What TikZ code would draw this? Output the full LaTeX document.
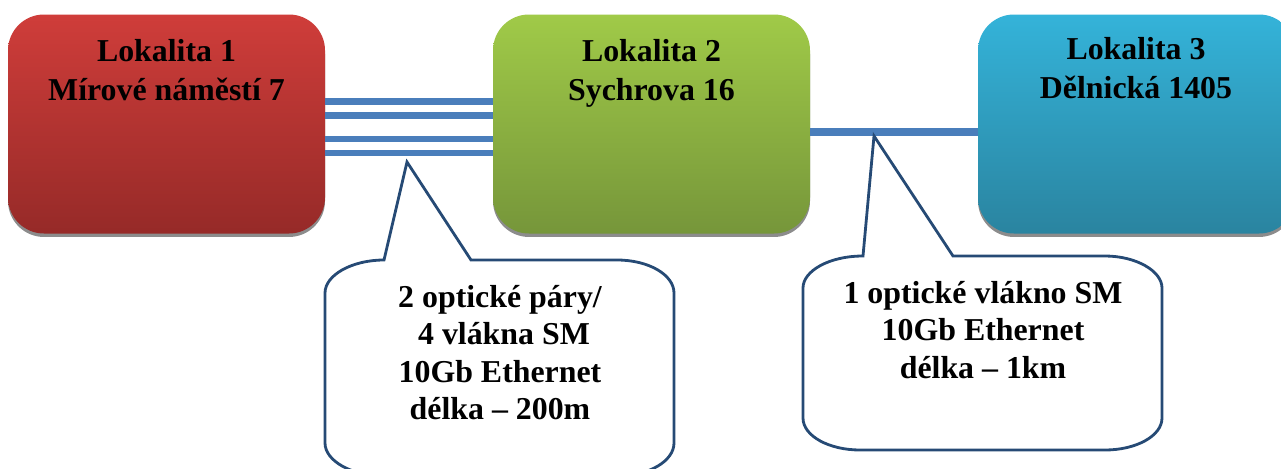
\documentclass[tikz,border=0pt]{standalone}
\usepackage{fontspec}
\setmainfont{Liberation Serif}
\usetikzlibrary{shadows}
\definecolor{linkblue}{HTML}{4A7EBB}
\definecolor{calloutblue}{HTML}{264A75}
\tikzset{
  sitebox/.style={minimum width=317*0.75pt,minimum height=219*0.75pt,inner sep=0pt,outer sep=0pt,
    rounded corners=27pt,shading=axis,shading angle=0,
    drop shadow={shadow xshift=0pt,shadow yshift=-2.6pt,fill=black!45,opacity=1}},
  redbox/.style={sitebox,top color=red1,bottom color=red2},
  greenbox/.style={sitebox,top color=green1,bottom color=green2},
  cyanbox/.style={sitebox,top color=cyan1,bottom color=cyan2},
  label text/.style={font=\bfseries\fontsize{23.9}{28}\selectfont,align=center,inner sep=0pt,anchor=north,text=black},
  site text/.style={label text,font=\bfseries\fontsize{23.9}{29}\selectfont},
  fibre/.style={draw=linkblue,line width=5.2pt},
  fibre thick/.style={draw=linkblue,line width=6pt},
  callout/.style={draw=calloutblue,line width=2.1pt,fill=white,line join=miter}
}
\definecolor{red1}{HTML}{CF3D3A}\definecolor{red2}{HTML}{962A28}
\definecolor{green1}{HTML}{A0CA48}\definecolor{green2}{HTML}{76963A}
\definecolor{cyan1}{HTML}{34B3D9}\definecolor{cyan2}{HTML}{2A84A0}
\begin{document}
\begin{tikzpicture}[x=0.75pt,y=-0.75pt]
\useasboundingbox (0,0) rectangle (1281,468);
\clip (0,0) rectangle (1281,468);
\fill[white] (0,0) rectangle (1281,468);
\node[redbox] (site1) at (166.5,124) {};
\node[greenbox] (site2) at (651.5,124) {};
\node[cyanbox] (site3) at (1136.5,124) {};
\foreach \yy in {101.5,115.5,139,153}
  \draw[fibre] (site1.east |- 0,\yy) -- (site2.west |- 0,\yy);
\draw[fibre thick] (site2.east |- 0,132) -- (site3.west |- 0,132);
\node[site text] (t1) at (166.5,39.5) {Lokalita 1\\Mírové náměstí 7};
\node[site text] (t2) at (651.5,39.5) {Lokalita 2\\Sychrova 16};
\node[site text] (t3) at (1136,37.5) {Lokalita 3\\Dělnická 1405};
\coordinate (tip1) at (407,162);
\coordinate (tip2) at (874,136);
\draw[callout] (384,260) -- (tip1) -- (471,260) -- (617,260)
  .. controls (649,260) and (674,275) .. (674,293) -- (674,443)
  .. controls (674,461) and (649,476) .. (617,476) -- (384,476)
  .. controls (352,476) and (325,461) .. (325,443) -- (325,293)
  .. controls (325,275) and (352,260) .. (384,260) -- cycle;
\draw[callout] (863,256) -- (tip2) -- (953,256) -- (1105,256)
  .. controls (1136,256) and (1162,271) .. (1162,288) -- (1162,418)
  .. controls (1162,436) and (1136,450) .. (1105,450) -- (860,450)
  .. controls (829,450) and (803,436) .. (803,418) -- (803,288)
  .. controls (803,271) and (829,256) .. (863,256) -- cycle;
\node[label text] (c1) at (500,285) {2 optické páry/\\\hspace*{0.25em}4 vlákna SM\\10Gb Ethernet\\délka – 200m};
\node[label text] (c2) at (983,281) {1 optické vlákno SM\\10Gb Ethernet\\délka – 1km};
\end{tikzpicture}
\end{document}
